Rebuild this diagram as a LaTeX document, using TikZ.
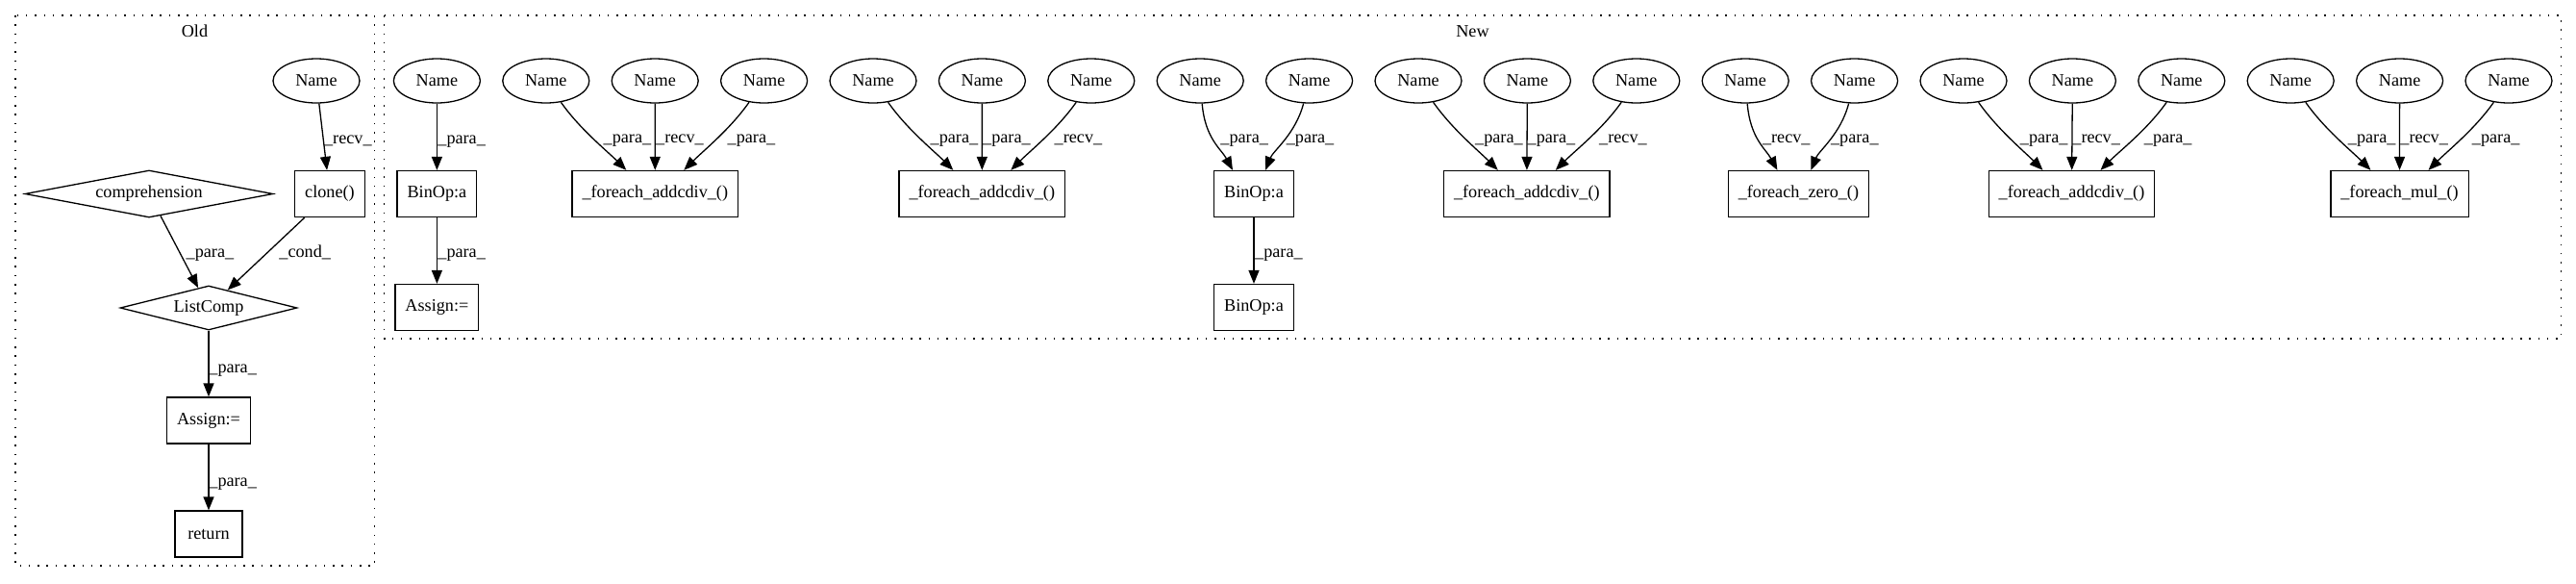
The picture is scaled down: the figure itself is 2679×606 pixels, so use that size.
\documentclass[tikz,border=0pt]{standalone}
\usepackage{fontspec}
\setmainfont{Liberation Serif}
\usetikzlibrary{shapes.geometric,arrows.meta,calc}
\begin{document}
\begin{tikzpicture}[x=0.5pt,y=-0.5pt,
  every node/.style={font=\fontsize{9.1pt}{11pt}\selectfont},
  nm/.style={ellipse,draw,line width=0.65pt,minimum width=45pt,minimum height=23pt,inner sep=0pt},
  bx/.style={rectangle,draw,line width=0.65pt,minimum width=35pt,minimum height=24pt,inner xsep=5.25pt,inner ysep=0pt},
  dm/.style={diamond,draw,line width=0.65pt,inner sep=0pt},
  ar/.style={draw,line width=0.65pt,-{Triangle[length=7pt,width=5.5pt]}},
  lbl/.style={anchor=base west,inner sep=0pt},
  clus/.style={draw,line width=0.75pt,dash pattern=on 0.75pt off 3.9pt}]
\useasboundingbox (0,0) rectangle (2679,606);

% ---------------- Old ----------------
\draw[clus] (16,16) rectangle (389.5,588);
\node[anchor=base,inner sep=0pt] (oldlbl) at (202.5,38.5) {Old};
\node[nm] (oName) at (329,84) {Name};
\node[bx] (oClone) at (343,201.5) {clone()};
\node[dm,aspect=5.3,minimum width=129pt,minimum height=24.5pt] (oComp) at (155,201.5) {comprehension};
\node[dm,aspect=4,minimum width=92pt,minimum height=23pt] (oList) at (217,320) {ListComp};
\node[bx] (oAssign) at (217,437) {Assign:=};
\node[bx] (oReturn) at (217,555) {return};

\draw[ar] (oName) -- (oClone);
\draw[ar] (oComp) -- (oList);
\draw[ar] (oClone) -- (oList);
\draw[ar] (oList) -- (oAssign);
\draw[ar] (oAssign) -- (oReturn);

\node[lbl] (olr) at (336.7,149) {\_recv\_};
\node[lbl] (olp1) at (193.3,267) {\_para\_};
\node[lbl] (olc) at (290,267) {\_cond\_};
\node[lbl] (olp2) at (217,387) {\_para\_};
\node[lbl] (olp3) at (217,505) {\_para\_};

% ---------------- New ----------------
\draw[clus] (399.5,16) rectangle (2663.5,352);
\node[anchor=base,inner sep=0pt] (newlbl) at (1531.5,38.5) {New};

\foreach \i in {0,...,19}
  \node[nm] (n\i) at ({454.4+113.4*\i},84) {Name};

\node[bx] (bin1) at (454.4,201.5) {BinOp:a};
\node[bx] (asg1) at (454.4,319.5) {Assign:=};
\node[bx] (b1) at (681.3,201.5) {\_foreach\_addcdiv\_()};
\node[bx] (b2) at (1021.3,201.5) {\_foreach\_addcdiv\_()};
\node[bx] (bin2) at (1304,201.5) {BinOp:a};
\node[bx] (bin3) at (1304,319.5) {BinOp:a};
\node[bx] (b3) at (1587.8,201.5) {\_foreach\_addcdiv\_()};
\node[bx] (zero) at (1870.4,201.5) {\_foreach\_zero\_()};
\node[bx] (b4) at (2154.5,201.5) {\_foreach\_addcdiv\_()};
\node[bx] (mul) at (2495.5,201.5) {\_foreach\_mul\_()};

% single chains
\draw[ar] (n0) -- (bin1);
\draw[ar] (bin1) -- (asg1);
\draw[ar] (bin2) -- (bin3);
\node[lbl] (l0) at (455,149) {\_para\_};
\node[lbl] (lba) at (455,267) {\_para\_};
\node[lbl] (lbb) at (1304.8,267) {\_para\_};

% three-input boxes
\foreach \bx/\a/\b/\c/\la/\lb/\lc in {
    b1/1/2/3/para/recv/para,
    b2/4/5/6/para/para/recv,
    b3/9/10/11/para/para/recv,
    b4/14/15/16/para/recv/para,
    mul/17/18/19/para/recv/para}{
  \draw[ar] (n\a) .. controls ($(n\a)+(35,50)$) and ($(\bx.north)+(-50,-20)$) .. ($(\bx.north)+(-30,0)$);
  \draw[ar] (n\b) -- (\bx);
  \draw[ar] (n\c) .. controls ($(n\c)+(-35,50)$) and ($(\bx.north)+(50,-20)$) .. ($(\bx.north)+(30,0)$);
  \node[lbl] (l\bx a) at ($(\bx.north)+(-54,-28.5)$) {\_\la\_};
  \node[lbl] (l\bx b) at ($(\bx.north)+(0.5,-28.5)$) {\_\lb\_};
  \node[lbl] (l\bx c) at ($(\bx.north)+(75,-28.5)$) {\_\lc\_};
}

% two-input boxes
\foreach \bx/\a/\b/\la/\lb/\dl/\dr/\xl/\xr in {
    bin2/7/8/para/para/-22/12/-35/33.4,
    zero/12/13/recv/para/-22/13/-37.8/33.3}{
  \draw[ar] (n\a) .. controls ($(n\a)+(5,60)$) and ($(\bx.north)+(\dl-12,-22)$) .. ($(\bx.north)+(\dl,0)$);
  \draw[ar] (n\b) .. controls ($(n\b)+(-14,55)$) and ($(\bx.north)+(\dr+8,-20)$) .. ($(\bx.north)+(\dr,0)$);
  \node[lbl] (l\bx a) at ($(\bx.north)+(\xl,-28.5)$) {\_\la\_};
  \node[lbl] (l\bx b) at ($(\bx.north)+(\xr,-28.5)$) {\_\lb\_};
}
\end{tikzpicture}
\end{document}
